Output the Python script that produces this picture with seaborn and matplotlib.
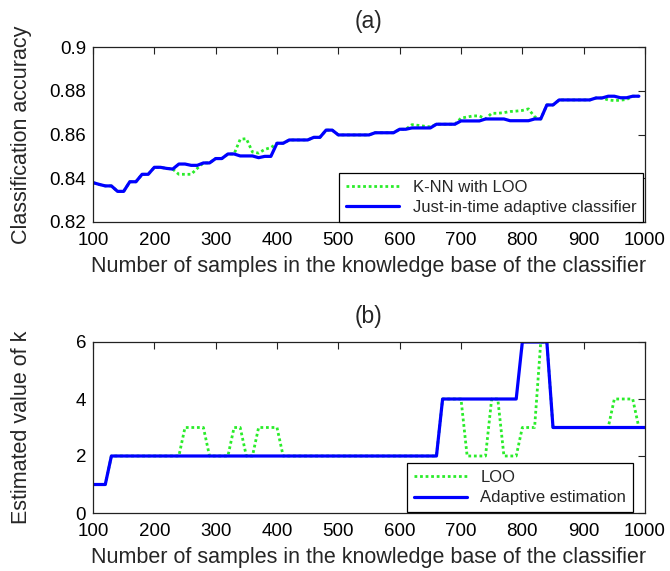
import matplotlib
matplotlib.use("Agg")
import matplotlib.pyplot as plt
import seaborn as sns

# ---------------- data ----------------
samples_a = list(range(100, 1000, 10))
acc_jit = [
    0.8380, 0.8372, 0.8365, 0.8365, 0.8340, 0.8340, 0.8384, 0.8384, 0.8418, 0.8418,
    0.8450, 0.8450, 0.8445, 0.8442, 0.8465, 0.8465, 0.8459, 0.8459, 0.8470, 0.8470,
    0.8490, 0.8490, 0.8511, 0.8511, 0.8502, 0.8502, 0.8502, 0.8494, 0.8500, 0.8500,
    0.8560, 0.8560, 0.8575, 0.8575, 0.8575, 0.8575, 0.8587, 0.8587, 0.8620, 0.8620,
    0.8598, 0.8598, 0.8598, 0.8598, 0.8598, 0.8598, 0.8608, 0.8608, 0.8608, 0.8608,
    0.8624, 0.8624, 0.8630, 0.8630, 0.8630, 0.8630, 0.8647, 0.8647, 0.8647, 0.8647,
    0.8662, 0.8662, 0.8662, 0.8662, 0.8671, 0.8671, 0.8671, 0.8671, 0.8663, 0.8663,
    0.8663, 0.8663, 0.8671, 0.8671, 0.8735, 0.8735, 0.8758, 0.8758, 0.8758, 0.8758,
    0.8758, 0.8758, 0.8767, 0.8767, 0.8775, 0.8775, 0.8768, 0.8768, 0.8775, 0.8775,
]
acc_loo = [
    0.8380, 0.8372, 0.8365, 0.8365, 0.8340, 0.8340, 0.8384, 0.8384, 0.8418, 0.8418,
    0.8450, 0.8450, 0.8445, 0.8442, 0.8418, 0.8418, 0.8418, 0.8445, 0.8470, 0.8470,
    0.8490, 0.8490, 0.8511, 0.8511, 0.8578, 0.8581, 0.8520, 0.8515, 0.8532, 0.8540,
    0.8560, 0.8560, 0.8575, 0.8575, 0.8575, 0.8575, 0.8587, 0.8587, 0.8620, 0.8620,
    0.8598, 0.8598, 0.8598, 0.8598, 0.8598, 0.8598, 0.8608, 0.8608, 0.8608, 0.8608,
    0.8624, 0.8624, 0.8645, 0.8642, 0.8638, 0.8635, 0.8647, 0.8647, 0.8647, 0.8647,
    0.8675, 0.8680, 0.8685, 0.8685, 0.8671, 0.8697, 0.8697, 0.8700, 0.8705, 0.8707,
    0.8710, 0.8717, 0.8681, 0.8671, 0.8735, 0.8735, 0.8758, 0.8758, 0.8758, 0.8758,
    0.8758, 0.8758, 0.8767, 0.8767, 0.8758, 0.8755, 0.8757, 0.8760, 0.8775, 0.8775,
]

samples_b = list(range(100, 1001, 10))
k_adapt = [
    1, 1, 1, 2, 2, 2, 2, 2, 2, 2,
    2, 2, 2, 2, 2, 2, 2, 2, 2, 2,
    2, 2, 2, 2, 2, 2, 2, 2, 2, 2,
    2, 2, 2, 2, 2, 2, 2, 2, 2, 2,
    2, 2, 2, 2, 2, 2, 2, 2, 2, 2,
    2, 2, 2, 2, 2, 2, 2, 4, 4, 4,
    4, 4, 4, 4, 4, 4, 4, 4, 4, 4,
    6, 6, 6, 6, 6, 3, 3, 3, 3, 3,
    3, 3, 3, 3, 3, 3, 3, 3, 3, 3,
    3,
]
k_loo = [
    1, 1, 1, 2, 2, 2, 2, 2, 2, 2,
    2, 2, 2, 2, 2, 3, 3, 3, 3, 2,
    2, 2, 2, 3, 3, 2, 2, 3, 3, 3,
    3, 2, 2, 2, 2, 2, 2, 2, 2, 2,
    2, 2, 2, 2, 2, 2, 2, 2, 2, 2,
    2, 2, 2, 2, 2, 2, 2, 4, 4, 4,
    4, 2, 2, 2, 2, 4, 4, 2, 2, 2,
    3, 3, 3, 6, 6, 3, 3, 3, 3, 3,
    3, 3, 3, 3, 3, 4, 4, 4, 4, 3,
    3,
]

x_ticks = [100, 200, 300, 400, 500, 600, 700, 800, 900, 1000]
acc_ticks = [0.82, 0.84, 0.86, 0.88, 0.9]
acc_ticklabels = ["0.82", "0.84", "0.86", "0.88", "0.9"]
k_ticks = [0, 2, 4, 6]

GREEN = "#2aec2a"
BLUE = "#0000ff"

# ---------------- style ----------------
sns.set_theme(style="white")
plt.rcParams["font.family"] = ["Liberation Sans", "DejaVu Sans"]
plt.rcParams["axes.edgecolor"] = "#222222"
plt.rcParams["axes.linewidth"] = 0.9

fig = plt.figure(figsize=(6.7, 5.71), dpi=100)
W, H = 670, 571
ax1 = fig.add_axes([93 / W, 1 - 222 / H, 552 / W, 175 / H])
ax2 = fig.add_axes([93 / W, 1 - 513 / H, 552 / W, 171 / H])

sns.lineplot(x=samples_a, y=acc_loo, ax=ax1, color=GREEN, linewidth=2.0,
             linestyle=(0, (1, 1)), label="K-NN with LOO")
sns.lineplot(x=samples_a, y=acc_jit, ax=ax1, color=BLUE, linewidth=2.3,
             label="Just-in-time adaptive classifier")

sns.lineplot(x=samples_b, y=k_loo, ax=ax2, color=GREEN, linewidth=2.0,
             linestyle=(0, (1, 1)), label="LOO")
sns.lineplot(x=samples_b, y=k_adapt, ax=ax2, color=BLUE, linewidth=2.3,
             label="Adaptive estimation")

ax1.set_xlim(100, 1000)
ax1.set_ylim(0.82, 0.9)
ax1.set_xticks(x_ticks)
ax1.set_yticks(acc_ticks)
ax1.set_yticklabels(acc_ticklabels)

ax2.set_xlim(100, 1000)
ax2.set_ylim(0, 6)
ax2.set_xticks(x_ticks)
ax2.set_yticks(k_ticks)

for ax in (ax1, ax2):
    ax.tick_params(direction="in", top=True, right=True, length=5, width=0.8,
                   labelsize=13.5, colors="#222222", labelcolor="black")
    ax.tick_params(axis="x", pad=7)
    ax.tick_params(axis="y", pad=5)
    for s in ax.spines.values():
        s.set_visible(True)
    ax.set_xlabel("Number of samples in the knowledge base of the classifier",
                  fontsize=15.5, labelpad=5)
    ax.yaxis.set_label_coords(-0.11, 0.5)

ax1.set_ylabel("Classification accuracy", fontsize=15.5)
ax2.set_ylabel("Estimated value of k", fontsize=15.5)
ax1.set_title("(a)", fontsize=16.5, pad=14)
ax2.set_title("(b)", fontsize=16.5, pad=14)

leg1 = ax1.legend(loc="lower right", bbox_to_anchor=(1.0 - 2 / 552, 0.0),
                  frameon=True, fancybox=False, edgecolor="black", framealpha=1,
                  borderaxespad=0, fontsize=12, handlelength=3.2, labelspacing=0.35)
leg1.get_frame().set_linewidth(0.9)
leg2 = ax2.legend(loc="lower right", bbox_to_anchor=(1.0 - 12 / 552, 0.005),
                  frameon=True, fancybox=False, edgecolor="black", framealpha=1,
                  borderaxespad=0, fontsize=12, handlelength=3.2, labelspacing=0.35)
leg2.get_frame().set_linewidth(0.9)

fig.savefig("out.png", dpi=100)
